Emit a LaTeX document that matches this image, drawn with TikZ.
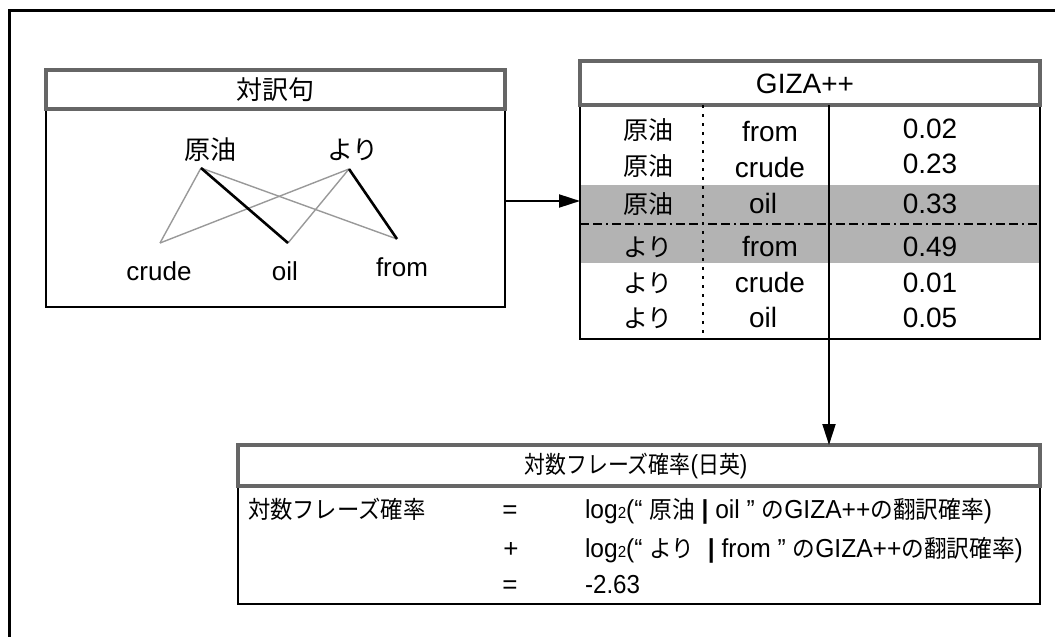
\documentclass[tikz,border=0pt]{standalone}
\usepackage{fontspec}
\usepackage{graphicx}
\setmainfont{Liberation Sans}
\newfontfamily\jpfont{Noto Sans CJK JP}
\usetikzlibrary{arrows.meta}
\definecolor{hdrgray}{HTML}{666666}
\definecolor{linkgray}{HTML}{999999}
\definecolor{bandgray}{HTML}{B3B3B3}
\newcommand{\jp}[1]{{\jpfont #1}}
\newcommand{\fsL}{\fontsize{26}{30}\selectfont}
\newcommand{\fsT}{\fontsize{28}{32}\selectfont}
\newcommand{\fsJ}{\fontsize{25}{30}\selectfont}
\newcommand{\fsB}{\fontsize{26}{30}\selectfont}
\newcommand{\fsBj}{\fontsize{24}{30}\selectfont}
\newcommand{\sq}[1]{\scalebox{0.93}[1]{#1}}
\newcommand{\sqf}[1]{\scalebox{0.945}[1]{#1}}
\newcommand{\sqt}[1]{\scalebox{0.87}[1]{#1}}
\newcommand{\smalltwo}{{\fontsize{16}{16}\selectfont 2}}
\begin{document}
\begin{tikzpicture}[x=1pt,y=-1pt,
  hdr/.style={draw=hdrgray, line width=3.5pt, fill=white, inner sep=0pt, outer sep=0pt, anchor=north west},
  bodybox/.style={draw=black, line width=2pt, inner sep=0pt, outer sep=0pt, anchor=north west},
  lbl/.style={inner sep=0pt, outer sep=0pt},
  linkthin/.style={draw=linkgray, line width=1.4pt},
  linkthick/.style={draw=black, line width=2.6pt},
  arr/.style={draw=black, line width=2pt, -{Triangle[length=21pt,width=13pt]}},
  frame/.style={draw=black, line width=3pt}]
\useasboundingbox (0,0) rectangle (1055,637);
% outer frame (cropped on the right and bottom)
\coordinate (fbl) at (9,637);
\coordinate (ftl) at (9,10);
\coordinate (ftr) at (1055,10);
\draw[frame] (fbl) -- (ftl) -- (ftr);

% ---------- left box ----------
\node[bodybox, minimum width=459pt, minimum height=198pt] (lbody) at (46,109) {};
\node[hdr, minimum width=459pt, minimum height=39pt] (lhead) at (46,70) {};
\node[lbl, font=\fsL] (ltitle) at (lhead.center) {\jp{対訳句}};
\node[lbl, font=\fsL] (ja1) at (210,150) {\jp{原油}};
\node[lbl, font=\fsL] (ja2) at (353,150) {\jp{より}};
\node[lbl, font=\fsL, anchor=base] (en1) at (159,280) {crude};
\node[lbl, font=\fsL, anchor=base] (en2) at (285,280) {oil};
\node[lbl, font=\fsL, anchor=base] (en3) at (402,276) {from};
\coordinate (p1) at (201,168);
\coordinate (p2) at (349,169);
\coordinate (q1) at (160,243);
\coordinate (q2) at (288,243);
\coordinate (q3) at (397,239);
\draw[linkthin] (p1) -- (q1);
\draw[linkthin] (p1) -- (q3);
\draw[linkthin] (p2) -- (q1);
\draw[linkthin] (p2) -- (q2);
\draw[linkthick] (p1) -- (q2);
\draw[linkthick] (p2) -- (q3);

% ---------- GIZA++ box ----------
\fill[bandgray] (580,185) rectangle (1040,263);
\node[bodybox, minimum width=460pt, minimum height=234pt] (gbody) at (580,105) {};
\node[hdr, minimum width=460pt, minimum height=44pt] (ghead) at (580,61) {};
\node[lbl, font=\fsT] (gtitle) at (805,84) {GIZA++};
\coordinate (dsep) at (580,224);
\draw[black, line width=1.5pt, dash pattern=on 9pt off 4pt on 9pt off 4pt on 2pt off 4pt] (dsep) -- (dsep -| gbody.east);
\coordinate (dcol) at (703,105);
\draw[black, line width=1.6pt, dash pattern=on 3pt off 6pt] (dcol) -- (dcol |- gbody.south);
% rows
\node[lbl, font=\fsJ, anchor=base west] (c11) at (623,139) {\jp{原油}};
\node[lbl, font=\fsT, anchor=base] (c12) at (770,141) {from};
\node[lbl, font=\fsT, anchor=base] (c13) at (930,138) {0.02};
\node[lbl, font=\fsJ, anchor=base west] (c21) at (623,175) {\jp{原油}};
\node[lbl, font=\fsT, anchor=base] (c22) at (770,177) {crude};
\node[lbl, font=\fsT, anchor=base] (c23) at (930,173) {0.23};
\node[lbl, font=\fsJ, anchor=base west] (c31) at (623,213) {\jp{原油}};
\node[lbl, font=\fsT, anchor=base] (c32) at (763,213) {oil};
\node[lbl, font=\fsT, anchor=base] (c33) at (930,213) {0.33};
\node[lbl, font=\fsJ, anchor=base west] (c41) at (623,256) {\jp{より}};
\node[lbl, font=\fsT, anchor=base] (c42) at (770,256) {from};
\node[lbl, font=\fsT, anchor=base] (c43) at (930,256) {0.49};
\node[lbl, font=\fsJ, anchor=base west] (c51) at (623,292) {\jp{より}};
\node[lbl, font=\fsT, anchor=base] (c52) at (770,292) {crude};
\node[lbl, font=\fsT, anchor=base] (c53) at (930,292) {0.01};
\node[lbl, font=\fsJ, anchor=base west] (c61) at (623,327) {\jp{より}};
\node[lbl, font=\fsT, anchor=base] (c62) at (763,327) {oil};
\node[lbl, font=\fsT, anchor=base] (c63) at (930,327) {0.05};

% ---------- bottom box ----------
\node[bodybox, minimum width=802pt, minimum height=118pt] (bbody) at (238,486) {};
\node[hdr, minimum width=802pt, minimum height=41pt] (bhead) at (238,445) {};
\node[lbl, font=\fsBj] (btitle) at (636,466) {\sqt{\jp{対数フレーズ確率}\fsB(\jp{\fsBj 日英})}};
\node[lbl, font=\fsBj, anchor=base west] (r1l) at (248,518) {\sq{\jp{対数フレーズ確率}}};
\node[lbl, font=\fsB, anchor=base] (r1e) at (510,518) {=};
\node[lbl, font=\fsB, anchor=base] (r2e) at (511,557) {+};
\node[lbl, font=\fsB, anchor=base] (r3e) at (510,593) {=};
\node[lbl, font=\fsB, anchor=base west] (r1f) at (585,518) {\sqf{log\smalltwo(“ \jp{\fsBj 原油} \textbf{|} oil ” \jp{\fsBj の}GIZA++\jp{\fsBj の翻訳確率})}};
\node[lbl, font=\fsB, anchor=base west] (r2f) at (585,557) {\sqf{log\smalltwo(“ \jp{\fsBj より} \ \textbf{|} from ” \jp{\fsBj の}GIZA++\jp{\fsBj の翻訳確率})}};
\node[lbl, font=\fsB, anchor=base west] (r3f) at (585,593) {\sq{-2.63}};

% ---------- connectors ----------
\coordinate (ay) at (0,201);
\draw[arr] (lbody.east |- ay) -- (gbody.west |- ay);
\coordinate (cs) at (829,105);
\draw[arr] (cs) -- (cs |- bhead.north);
\end{tikzpicture}
\end{document}
